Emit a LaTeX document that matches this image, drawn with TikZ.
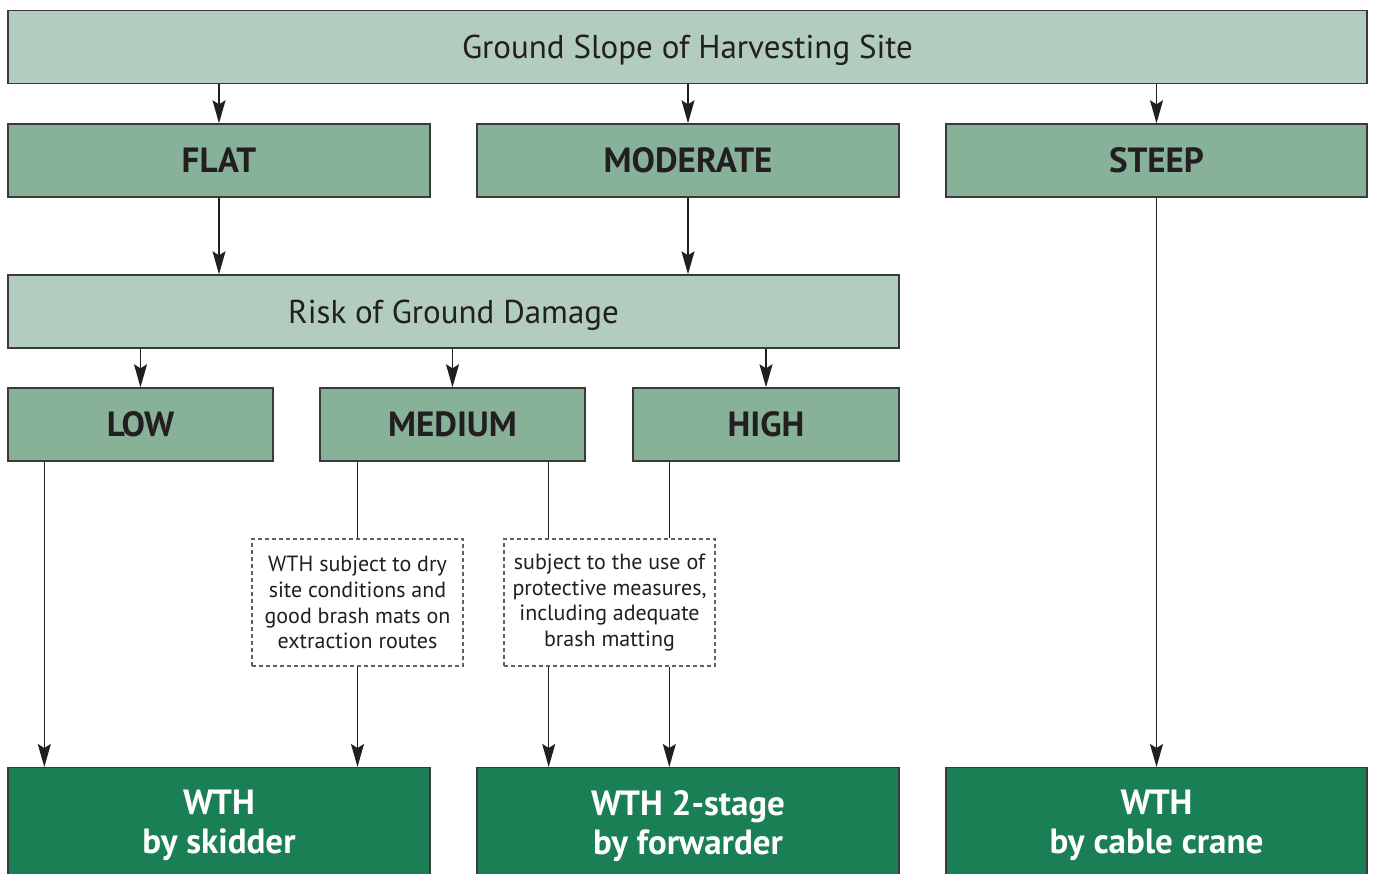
\documentclass[tikz,border=0pt]{standalone}
\usepackage{fontspec}
\setmainfont{PT Sans}
\usetikzlibrary{arrows.meta}

\definecolor{slopelight}{HTML}{B2CCBD}
\definecolor{slopemid}{HTML}{87B199}
\definecolor{slopedark}{HTML}{1A7F55}
\definecolor{edgegray}{HTML}{3A3A3A}
\definecolor{inkblack}{HTML}{231F20}

\begin{document}
\begin{tikzpicture}[x=1pt,y=-1pt,>={Stealth[length=23pt,width=13pt,inset=4pt]},
  link/.style={line width=1.4pt,draw=inkblack},
  headbox/.style={draw=edgegray,line width=1.4pt,fill=slopelight,text=inkblack,inner sep=0pt,
    minimum height=73,text depth=0pt,font=\fontsize{33}{40}\selectfont},
  classbox/.style={draw=edgegray,line width=1.4pt,fill=slopemid,text=inkblack,inner sep=0pt,
    minimum height=73,text depth=0pt,font=\fontsize{35}{42}\selectfont\bfseries},
  notebox/.style={draw=edgegray!80,line width=1.2pt,dash pattern=on 4pt off 3pt,fill=white,
    text=inkblack,inner sep=0pt,minimum width=211,minimum height=127,align=center,
    font=\fontsize{22}{25.7}\selectfont},
  methodbox/.style={draw=edgegray,line width=1.4pt,fill=slopedark,text=white,inner sep=0pt,
    anchor=north,minimum width=422,minimum height=116,align=center,
    font=\fontsize{35}{39}\selectfont\bfseries}]
  \useasboundingbox (0,0) rectangle (1375,874);
  \clip (0,0) rectangle (1375,874);

  % slope classes
  \node[headbox,minimum width=1359] (slope) at (687.5,47) {Ground Slope of Harvesting Site};
  \node[classbox,minimum width=422] (flat) at (219,160.5) {FLAT};
  \node[classbox,minimum width=422] (moderate) at (688,160.5) {MODERATE};
  \node[classbox,minimum width=421] (steep) at (1156.5,160.5) {STEEP};

  % damage risk
  \node[headbox,minimum width=891] (risk) at (453.5,311.5) {Risk of Ground Damage};
  \node[classbox,minimum width=265] (low) at (140.5,424.5) {LOW};
  \node[classbox,minimum width=265] (medium) at (452.5,424.5) {MEDIUM};
  \node[classbox,minimum width=266] (high) at (766,424.5) {HIGH};

  \node[notebox] (drysite) at (357.5,602.5) {WTH subject to dry\\site conditions and\\good brash mats on\\extraction routes};
  \node[notebox] (protect) at (609.5,602.5) {subject to the use of\\protective measures,\\including adequate\\brash matting};

  % harvesting methods
  \node[methodbox] (skidder) at (219,767) {WTH\\by skidder};
  \node[methodbox] (forwarder) at (688,767) {WTH 2-stage\\by forwarder};
  \node[methodbox,minimum width=421] (cable) at (1156.5,767) {WTH\\by cable crane};

  \coordinate (lowdrop) at ([xshift=37]low.south west);
  \coordinate (meddrop) at ([xshift=-37]medium.south east);
  \coordinate (highdrop) at ([xshift=37]high.south west);

  \foreach \cls in {flat,moderate,steep}
    \draw[link,->] (slope.south -| \cls.north) -- (\cls.north);
  \foreach \cls in {flat,moderate}
    \draw[link,->] (\cls.south) -- (\cls.south |- risk.north);
  \foreach \cls in {low,medium,high}
    \draw[link,->] (risk.south -| \cls.north) -- (\cls.north);

  \draw[link,->] (lowdrop) -- (lowdrop |- skidder.north);
  \draw[link] (drysite.north |- medium.south) -- (drysite.north);
  \draw[link,->] (drysite.south) -- (drysite.south |- skidder.north);
  \draw[link] (meddrop) -- (meddrop |- protect.north);
  \draw[link,->] (meddrop |- protect.south) -- (meddrop |- forwarder.north);
  \draw[link] (highdrop) -- (highdrop |- protect.north);
  \draw[link,->] (highdrop |- protect.south) -- (highdrop |- forwarder.north);
  \draw[link,->] (steep.south) -- (steep.south |- cable.north);
\end{tikzpicture}
\end{document}
